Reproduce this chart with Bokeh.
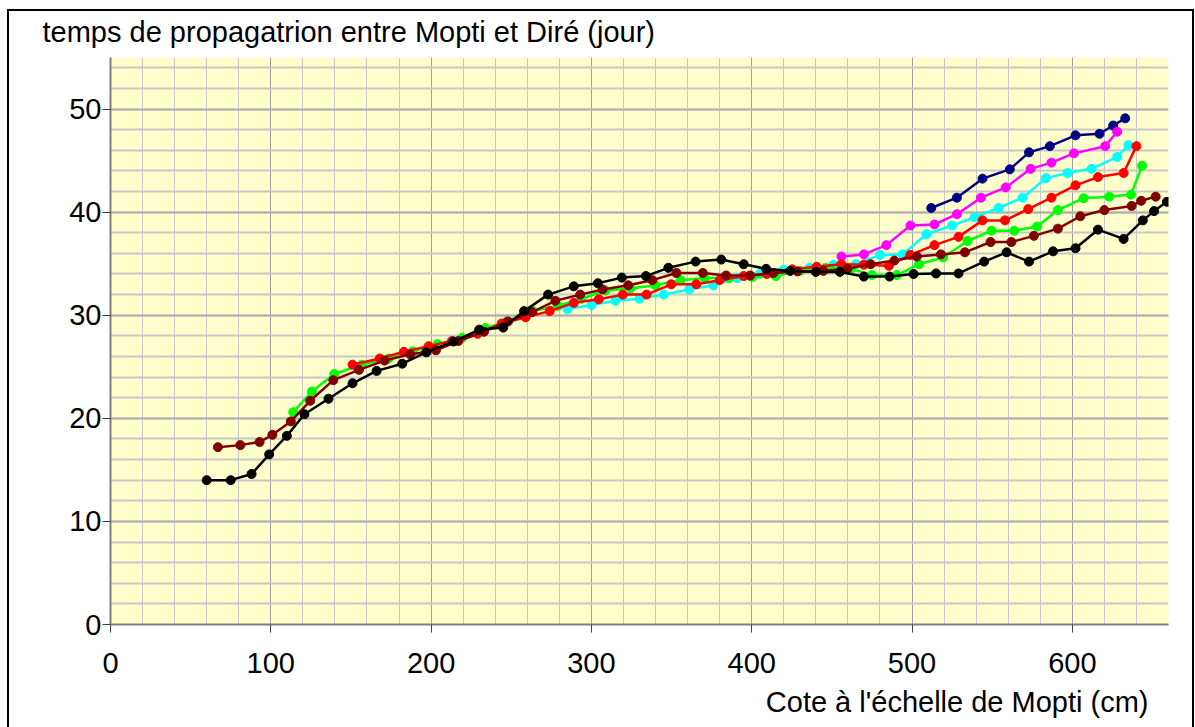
from bokeh.plotting import figure
from bokeh.models import Range1d, FixedTicker, Title
from bokeh.embed import file_html
from bokeh.resources import INLINE

# Water level at Mopti (cm) vs. propagation time Mopti -> Diré (days), one series per curve
navy_x = [512, 528, 544, 561, 573, 586, 602, 617, 625.5, 633]
navy_y = [40.4, 41.4, 43.25, 44.15, 45.8, 46.4, 47.45, 47.6, 48.4, 49.1]

magenta_x = [456, 470, 484, 499, 514, 528, 543, 558.5, 574, 587, 601, 620.5, 628]
magenta_y = [35.7, 35.9, 36.8, 38.7, 38.8, 39.8, 41.4, 42.4, 44.2, 44.8, 45.7, 46.4, 47.8]

cyan_x = [285, 300, 315, 330, 345, 361, 376, 391, 405, 420, 436, 451, 465, 480, 494,
          509, 525, 539, 554, 569, 583.5, 597, 612, 628, 635]
cyan_y = [30.6, 31.0, 31.4, 31.6, 32.0, 32.5, 32.9, 33.6, 34.0, 34.4, 34.6, 34.9, 34.95, 35.85, 35.9,
          37.85, 38.7, 39.5, 40.4, 41.4, 43.3, 43.8, 44.2, 45.35, 46.5]

green_x = [114, 125.6, 139.6, 156.8, 173.5, 188.5, 204, 219.3, 233.8, 247.4, 263.4, 279, 293.8,
           308.8, 324.4, 340, 355.6, 370.6, 385.8, 400.4, 415, 430, 446, 462, 475, 490.5,
           504.4, 519.4, 534.6, 549.6, 563.7, 578, 591, 607, 623, 636.6, 643.5]
green_y = [20.6, 22.6, 24.3, 25.2, 25.8, 26.5, 27.2, 27.8, 28.75, 29.4, 30.4, 30.9, 31.6,
           32.4, 32.6, 32.9, 33.4, 33.6, 33.6, 33.7, 33.8, 34.3, 34.6, 34.5, 33.9, 33.9,
           34.95, 35.6, 37.2, 38.2, 38.2, 38.6, 40.2, 41.35, 41.5, 41.7, 44.5]

red_x = [151, 168, 183, 198.5, 213, 229, 244, 259, 274, 289, 304.6, 319.6, 334.4, 349.8,
         365.4, 380, 395, 409.5, 425.3, 440.5, 456, 470, 485.6, 499, 514, 529, 544, 558,
         572.5, 587, 602, 616, 632, 640]
red_y = [25.2, 25.8, 26.45, 27.0, 27.5, 28.2, 29.2, 29.8, 30.4, 31.2, 31.55, 32.0, 32.0, 33.0,
         33.0, 33.4, 33.8, 34.0, 34.45, 34.7, 34.95, 34.9, 34.8, 35.85, 36.8, 37.6, 39.2, 39.2,
         40.3, 41.4, 42.6, 43.4, 43.8, 46.4]

maroon_x = [67, 81, 93, 101, 112.5, 124.6, 139, 155, 171, 187, 203, 217, 233, 248, 263,
            277.5, 293, 307, 323, 338, 353, 369.5, 384, 399, 413.5, 428.5, 444.7, 459.7,
            474.2, 489, 503, 518, 533, 549, 562, 576, 591, 605, 620, 637, 643, 652]
maroon_y = [17.2, 17.4, 17.7, 18.4, 19.7, 21.7, 23.7, 24.7, 25.6, 26.2, 26.6, 27.5, 28.4, 29.4, 30.3,
            31.4, 32.0, 32.5, 32.9, 33.4, 34.1, 34.1, 33.85, 33.85, 34.1, 34.25, 34.3, 34.5,
            34.95, 35.3, 35.7, 35.9, 36.1, 37.1, 37.1, 37.7, 38.4, 39.6, 40.2, 40.6, 41.1, 41.5]

black_x = [60, 75, 88, 99, 110, 121, 136, 151, 166, 182, 197, 214, 230, 245, 258, 273, 289,
           304, 319, 334, 348, 365, 381, 395, 409, 424, 440, 455, 470, 486, 501, 515, 529,
           545, 559, 573, 588, 602, 616, 632, 644, 651, 659]
black_y = [14.0, 14.0, 14.6, 16.5, 18.3, 20.4, 21.9, 23.4, 24.6, 25.3, 26.4, 27.45, 28.6, 28.8,
           30.4, 32.0, 32.8, 33.1, 33.65, 33.8, 34.6, 35.2, 35.4, 34.95, 34.5, 34.3, 34.2, 34.2,
           33.75, 33.75, 34.0, 34.05, 34.05, 35.2, 36.1, 35.2, 36.2, 36.5, 38.3, 37.4, 39.2,
           40.1, 41.0]

x_major_ticks = [0, 100, 200, 300, 400, 500, 600]
x_minor_ticks = list(range(0, 661, 20))
y_major_ticks = [0, 10, 20, 30, 40, 50]
y_minor_ticks = list(range(0, 56, 2))

y_title = "temps de propagatrion entre Mopti et Diré (jour)"
x_title = "Cote à l'échelle de Mopti (cm)"

FONT = "Liberation Sans"
FS = "29px"

# thin black chart frame (top, left, right) painted as CSS background lines behind a transparent canvas
frame_css = ("linear-gradient(#000, #000) 0 9px / 100% 2px no-repeat, "
             "linear-gradient(#000, #000) 0 9px / 2px 100% no-repeat, "
             "linear-gradient(#000, #000) 100% 9px / 2px 100% no-repeat, #fff")

p = figure(width=1187, height=727, output_backend="svg", toolbar_location=None,
           x_range=Range1d(0, 660), y_range=Range1d(0, 55),
           min_border_left=103, min_border_right=26, min_border_top=57, min_border_bottom=103,
           styles={"margin-left": "7px", "background": frame_css})

p.background_fill_color = "#FFFFCC"
p.border_fill_color = None
p.outline_line_color = None

for ax, major, minor in ((p.xaxis[0], x_major_ticks, x_minor_ticks),
                         (p.yaxis[0], y_major_ticks, y_minor_ticks)):
    ax.ticker = FixedTicker(ticks=major, minor_ticks=minor)
    ax.axis_line_color = "#7F7F7F"
    ax.axis_line_width = 2
    ax.major_tick_line_color = "#404040"
    ax.major_tick_line_width = 1
    ax.major_tick_out = 8
    ax.major_tick_in = 0
    ax.minor_tick_line_color = None
    ax.major_label_text_font = FONT
    ax.major_label_text_font_size = FS
    ax.major_label_text_color = "black"

p.xaxis.major_label_standoff = 20
p.yaxis.major_label_standoff = 1

p.xgrid.grid_line_color = "#A0A0A0"
p.xgrid.grid_line_width = 1
p.xgrid.minor_grid_line_color = "#C8C8C8"
p.xgrid.minor_grid_line_width = 1
p.ygrid.grid_line_color = "#B0B0B0"
p.ygrid.grid_line_width = 2
p.ygrid.minor_grid_line_color = "#C8C8C8"
p.ygrid.minor_grid_line_width = 2

series = [
    (navy_x, navy_y, "#000080"),
    (magenta_x, magenta_y, "#FF00FF"),
    (cyan_x, cyan_y, "#00FFFF"),
    (green_x, green_y, "#00FF00"),
    (red_x, red_y, "#FF0000"),
    (maroon_x, maroon_y, "#800000"),
    (black_x, black_y, "#000000"),
]
for xs, ys, col in series:
    p.line(xs, ys, line_color=col, line_width=2.5)
    p.scatter(xs, ys, marker="circle", size=9, fill_color=col, line_color=col)

# y quantity written above the plot, x quantity below it on the right
p.title.text = y_title
p.title.align = "left"
p.title.offset = -68
p.title.standoff = 19
p.title.text_font = FONT
p.title.text_font_size = FS
p.title.text_font_style = "normal"
p.title.text_color = "black"

p.add_layout(Title(text=x_title, align="right", offset=20, standoff=16,
                   text_font=FONT, text_font_size=FS, text_font_style="normal",
                   text_color="black"), "below")

open("out.html", "w").write(file_html(p, INLINE))
